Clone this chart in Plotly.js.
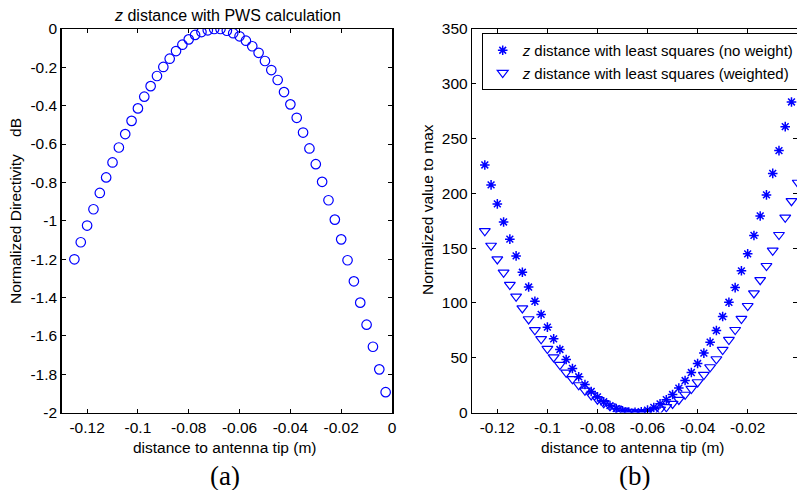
<!DOCTYPE html>
<html><head><meta charset="utf-8">
<script src="https://cdn.plot.ly/plotly-3.0.1.min.js"></script>
<style>html,body{margin:0;padding:0;background:#fff}#chart{width:797px;height:490px}</style>
</head><body><div id="chart"></div>
<script>
// ---- data ----
const distA = [-0.125,-0.1225,-0.12,-0.1175,-0.115,-0.1125,-0.11,-0.1075,-0.105,-0.1025,-0.1,-0.0975,-0.095,-0.0925,-0.09,-0.0875,-0.085,-0.0825,-0.08,-0.0775,-0.075,-0.0725,-0.07,-0.0675,-0.065,-0.0625,-0.06,-0.0575,-0.055,-0.0525,-0.05,-0.0475,-0.045,-0.0425,-0.04,-0.0375,-0.035,-0.0325,-0.03,-0.0275,-0.025,-0.0225,-0.02,-0.0175,-0.015,-0.0125,-0.01,-0.0075,-0.005,-0.0025];
const directivity = [-1.201,-1.112,-1.025,-0.940,-0.855,-0.774,-0.696,-0.618,-0.548,-0.479,-0.414,-0.353,-0.298,-0.245,-0.198,-0.155,-0.115,-0.082,-0.054,-0.031,-0.016,-0.007,0,0,-0.009,-0.022,-0.038,-0.061,-0.090,-0.124,-0.167,-0.214,-0.266,-0.329,-0.393,-0.463,-0.540,-0.623,-0.705,-0.797,-0.893,-0.994,-1.097,-1.206,-1.316,-1.427,-1.542,-1.657,-1.775,-1.894];
const distB = [-0.125,-0.1225,-0.12,-0.1175,-0.115,-0.1125,-0.11,-0.1075,-0.105,-0.1025,-0.1,-0.0975,-0.095,-0.0925,-0.09,-0.0875,-0.085,-0.0825,-0.08,-0.0775,-0.075,-0.0725,-0.07,-0.0675,-0.065,-0.0625,-0.06,-0.0575,-0.055,-0.0525,-0.05,-0.0475,-0.045,-0.0425,-0.04,-0.0375,-0.035,-0.0325,-0.03,-0.0275,-0.025,-0.0225,-0.02,-0.0175,-0.015,-0.0125,-0.01,-0.0075,-0.005,-0.0025,0];
const noWeight = [225.9,207.7,190.4,173.9,158.2,142.9,128.0,114.5,101.5,89.5,77.9,67.2,57.5,48.4,40.2,32.6,25.5,19.2,14.3,9.8,6.3,3.5,1.5,0.4,0.1,0.7,2.2,4.6,7.9,11.7,16.4,22.3,29.2,36.5,44.7,54.2,64.2,74.8,87.6,100.6,114.0,129.3,144.8,161.6,179.4,198.6,218.2,239.0,260.9,283.4,307.1];
const weighted = [165.6,152.3,139.9,127.7,116.5,105.8,95.2,85.2,75.2,67.0,58.1,50.5,43.5,36.5,30.5,25.0,20.0,15.8,11.9,8.6,5.8,3.6,1.9,0.8,0.2,0.0,0.4,1.3,2.8,5.0,8.0,11.7,16.3,21.6,27.7,34.4,41.4,48.7,57.2,66.3,75.4,85.5,97.3,108.9,121.0,133.8,147.8,162.1,177.9,193.1,209.8];
const xTickVals = [-0.12,-0.1,-0.08,-0.06,-0.04,-0.02,0];
const xTickText = ['-0.12','-0.1','-0.08','-0.06','-0.04','-0.02','0'];
const yTickValsA = [-2,-1.8,-1.6,-1.4,-1.2,-1,-0.8,-0.6,-0.4,-0.2,0];
const yTickTextA = ['-2','-1.8','-1.6','-1.4','-1.2','-1','-0.8','-0.6','-0.4','-0.2','0'];
const yTickValsB = [0,50,100,150,200,250,300,350];
const yTickTextB = ['0','50','100','150','200','250','300','350'];
const seriesNames = ['<i>z</i> distance with least squares (no weight)','<i>z</i> distance with least squares (weighted)'];

// ---- layout ----
const W = 797, H = 490;
const fx = p => p / W, fy = p => 1 - p / H;
const FONT = 'Liberation Sans, Arial, sans-serif';
const SERIF = 'Liberation Serif, Times New Roman, serif';
const BLUE = '#0000ff';
const FS = 15.5;
function axis(extra) {
  return Object.assign({
    showline: true, linecolor: '#000', linewidth: 1.5, mirror: 'ticks',
    ticks: 'inside', ticklen: 4, tickwidth: 1, tickcolor: '#000',
    showgrid: false, zeroline: false, fixedrange: true, automargin: false,
    tickfont: {family: FONT, size: FS, color: '#000'}
  }, extra);
}
const traces = [
  {x: distA, y: directivity, xaxis: 'x', yaxis: 'y', type: 'scatter', mode: 'markers', showlegend: false,
   marker: {symbol: 'circle-open', size: 9.5, color: BLUE, line: {color: BLUE, width: 1.2}}},
  {x: distB, y: noWeight, xaxis: 'x2', yaxis: 'y2', type: 'scatter', mode: 'markers', name: seriesNames[0],
   marker: {symbol: 'asterisk-open', size: 8, color: BLUE, line: {color: BLUE, width: 1.5}}},
  {x: distB, y: weighted, xaxis: 'x2', yaxis: 'y2', type: 'scatter', mode: 'markers', name: seriesNames[1],
   marker: {symbol: 'triangle-down-open', size: 9.5, color: BLUE, line: {color: BLUE, width: 1.2}}}
];
const ann = (text, x, y, size, extra) => Object.assign({text, x: fx(x), y: fy(y), xref: 'paper', yref: 'paper',
  showarrow: false, xanchor: 'center', yanchor: 'middle', font: {family: FONT, size, color: '#000'}}, extra || {});
const layout = {
  width: W, height: H, margin: {l: 0, r: 0, t: 0, b: 0, autoexpand: false},
  paper_bgcolor: '#fff', plot_bgcolor: '#fff', showlegend: true,
  xaxis: axis({domain: [fx(61.7), fx(392)], range: [-0.13, 0], tickvals: xTickVals, ticktext: xTickText, anchor: 'y'}),
  yaxis: axis({domain: [fy(412.5), fy(29)], range: [-2, 0], tickvals: yTickValsA, ticktext: yTickTextA, anchor: 'x'}),
  xaxis2: axis({domain: [fx(472.3), 1], range: [-0.13, -0.0003], tickvals: xTickVals, ticktext: xTickText, anchor: 'y2'}),
  yaxis2: axis({domain: [fy(412.5), fy(29)], range: [0, 350], tickvals: yTickValsB, ticktext: yTickTextB, anchor: 'x2'}),
  legend: {x: fx(481.7), y: fy(33), xanchor: 'left', yanchor: 'top', bgcolor: '#fff', bordercolor: '#000', borderwidth: 1,
    font: {family: FONT, size: 15, color: '#000'}, tracegroupgap: 0},
  annotations: [
    ann('<i>z</i> distance with PWS calculation', 227, 15, 16),
    ann('distance to antenna tip (m)', 225, 447, FS),
    ann('distance to antenna tip (m)', 633, 447, FS),
    ann('Normalized Directivity\u00a0\u00a0\u00a0\u00a0dB', 15, 211, FS, {textangle: -90}),
    ann('Normalized value to max', 427, 210, FS, {textangle: -90}),
    ann('(a)', 225, 476, 27, {font: {family: SERIF, size: 27, color: '#000'}}),
    ann('(b)', 634, 476, 27, {font: {family: SERIF, size: 27, color: '#000'}})
  ]
};
Plotly.newPlot('chart', traces, layout, {staticPlot: true, displayModeBar: false});
</script></body></html>
